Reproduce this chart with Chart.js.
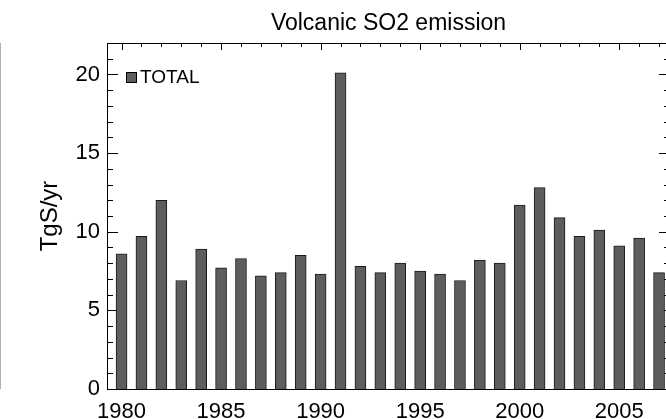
<!DOCTYPE html>
<html>
<head>
<meta charset="utf-8">
<script src="https://cdn.jsdelivr.net/npm/chart.js@4"></script>
<style>
  html, body { margin: 0; padding: 0; background: #fff; overflow: hidden; }
  #wrap { width: 666px; height: 419px; overflow: hidden; }
</style>
</head>
<body>
<div id="wrap"><canvas id="so2-chart" width="670" height="419"></canvas></div>
<script>
const years = [1980, 1981, 1982, 1983, 1984, 1985, 1986, 1987, 1988, 1989,
    1990, 1991, 1992, 1993, 1994, 1995, 1996, 1997, 1998, 1999,
    2000, 2001, 2002, 2003, 2004, 2005, 2006, 2007];
const totalEmission = [8.6, 9.7, 12.0, 6.9, 8.9, 7.7, 8.3, 7.2, 7.4, 8.5,
    7.3, 20.1, 7.8, 7.4, 8.0, 7.5, 7.3, 6.9, 8.2, 8.0,
    11.7, 12.8, 10.9, 9.7, 10.1, 9.1, 9.6, 7.4];
const xTickLabels = [1980, 1985, 1990, 1995, 2000, 2005];
const yTickLabels = [0, 5, 10, 15, 20];

const FONT = '"Liberation Sans", Arial, Helvetica, sans-serif';

// frame, inward ticks, legend and the faint line at the left edge
const framePlugin = {
    id: 'frame',
    beforeDatasetsDraw(chart) {
        const { ctx, chartArea: a, scales: { x, y } } = chart;
        ctx.save();
        ctx.strokeStyle = '#000';
        ctx.lineWidth = 1;
        ctx.beginPath();
        years.forEach(yr => {
            const px = Math.round(x.getPixelForValue(yr)) + 0.5;
            const len = yr % 5 === 0 ? 7 : 4;
            ctx.moveTo(px, a.top);
            ctx.lineTo(px, a.top + len);
            ctx.moveTo(px, a.bottom);
            ctx.lineTo(px, a.bottom - len);
        });
        for (let v = 0; v <= 22; v++) {
            const py = Math.round(y.getPixelForValue(v)) + 0.5;
            const len = v % 5 === 0 ? 11 : 6;
            ctx.moveTo(a.left, py);
            ctx.lineTo(a.left + len, py);
            ctx.moveTo(a.right, py);
            ctx.lineTo(a.right - len, py);
        }
        ctx.stroke();

        ctx.beginPath();
        ctx.moveTo(a.left + 0.5, a.top + 0.5);
        ctx.lineTo(a.right + 0.5, a.top + 0.5);
        ctx.lineTo(a.right + 0.5, a.bottom);
        ctx.stroke();

        ctx.strokeStyle = '#b0b0b0';
        ctx.beginPath();
        ctx.moveTo(0.5, a.top);
        ctx.lineTo(0.5, a.bottom);
        ctx.stroke();
        ctx.restore();
    },
    afterDraw(chart) {
        const { ctx, chartArea: a } = chart;
        const ds = chart.data.datasets[0];
        ctx.save();
        ctx.fillStyle = ds.backgroundColor;
        ctx.strokeStyle = '#000';
        ctx.lineWidth = 1;
        ctx.fillRect(a.left + 19, a.top + 29, 10, 10);
        ctx.strokeRect(a.left + 19.5, a.top + 29.5, 10, 10);
        ctx.fillStyle = '#000';
        ctx.font = '19px ' + FONT;
        ctx.textBaseline = 'middle';
        ctx.fillText(ds.label, a.left + 33, a.top + 35);
        ctx.restore();
    }
};

new Chart(document.getElementById('so2-chart'), {
    type: 'bar',
    data: {
        datasets: [{
            label: 'TOTAL',
            data: years.map((yr, i) => ({ x: yr, y: totalEmission[i] })),
            backgroundColor: '#5d5d5d',
            borderColor: '#1a1a1a',
            borderWidth: 1,
            barThickness: 11
        }]
    },
    options: {
        responsive: false,
        animation: false,
        devicePixelRatio: 1,
        layout: { padding: 0 },
        plugins: {
            legend: { display: false },
            tooltip: { enabled: false },
            title: {
                display: true,
                text: 'Volcanic SO2 emission',
                color: '#000',
                fullSize: false,
                font: { family: FONT, size: 23, weight: 'normal' },
                padding: { top: 10, bottom: 5.4 }
            }
        },
        scales: {
            x: {
                type: 'linear',
                offset: false,
                min: 1979.27,
                max: 2007.55,
                afterBuildTicks: scale => {
                    scale.ticks = xTickLabels.map(v => ({ value: v }));
                },
                afterFit: scale => { scale.height = 30; },
                grid: { display: false, drawTicks: false, offset: false },
                border: { display: true, color: '#000', width: 1 },
                ticks: {
                    color: '#000',
                    font: { family: FONT, size: 22 },
                    padding: 10,
                    maxRotation: 0,
                    callback: v => String(v)
                }
            },
            y: {
                min: 0,
                max: 22,
                afterBuildTicks: scale => {
                    scale.ticks = yTickLabels.map(v => ({ value: v }));
                },
                afterFit: scale => { scale.width = 107; },
                grid: { display: false, drawTicks: false },
                border: { display: true, color: '#000', width: 1 },
                title: {
                    display: true,
                    text: 'TgS/yr',
                    color: '#000',
                    font: { family: FONT, size: 24 },
                    padding: { top: 36, bottom: 0 }
                },
                ticks: {
                    color: '#000',
                    font: { family: FONT, size: 22 },
                    padding: 7
                }
            }
        }
    },
    plugins: [framePlugin]
});
</script>
</body>
</html>
